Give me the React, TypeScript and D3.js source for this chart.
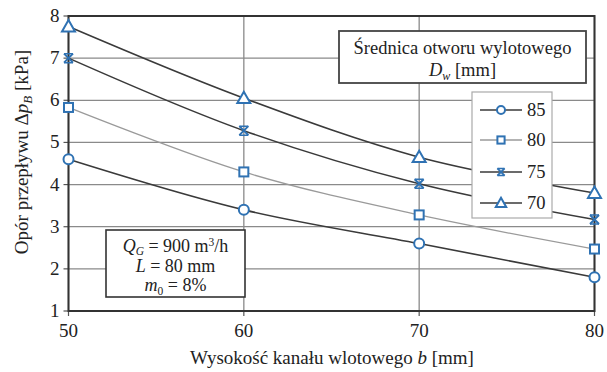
import React from "react";
import * as d3 from "d3";

const xValues = [50, 60, 70, 80];
const seriesNames = ["85", "80", "75", "70"];
const s85 = [4.6, 3.4, 2.6, 1.8];
const s80 = [5.83, 4.3, 3.28, 2.47];
const s75 = [7.0, 5.28, 4.02, 3.17];
const s70 = [7.75, 6.05, 4.65, 3.8];
const xTicks = [50, 60, 70, 80];
const yTicks = [1, 2, 3, 4, 5, 6, 7, 8];

const W = 607;
const H = 372;
const FONT = '"Liberation Serif", "DejaVu Serif", serif';
const BLUE = "#2f72b3";

type Marker = "circle" | "square" | "star" | "triangle";

const series: { name: string; values: number[]; color: string; width: number; marker: Marker }[] = [
  { name: seriesNames[0], values: s85, color: "#3a3a3a", width: 1.6, marker: "circle" },
  { name: seriesNames[1], values: s80, color: "#9a9a9a", width: 1.3, marker: "square" },
  { name: seriesNames[2], values: s75, color: "#3a3a3a", width: 1.6, marker: "star" },
  { name: seriesNames[3], values: s70, color: "#3a3a3a", width: 1.6, marker: "triangle" },
];

function MarkerShape({ type, x, y, small }: { type: Marker; x: number; y: number; small?: boolean }) {
  const k = small ? 0.8 : 1;
  const common = { fill: "#fff", stroke: BLUE, strokeWidth: 2 };
  if (type === "circle") return <circle cx={x} cy={y} r={5 * k} {...common} />;
  if (type === "square") {
    const s = 9 * k;
    return <rect x={x - s / 2} y={y - s / 2} width={s} height={s} {...common} />;
  }
  if (type === "triangle") {
    const s = 6.5 * k;
    return <path d={`M${x},${y - s}L${x + s},${y + s * 0.75}L${x - s},${y + s * 0.75}Z`} {...common} />;
  }
  const s = 4.5 * k;
  return (
    <g stroke={BLUE} strokeWidth={2} fill="none">
      <path d={`M${x - s},${y - s}L${x + s},${y + s}M${x + s},${y - s}L${x - s},${y + s}`} />
      <path d={`M${x - s},${y - s}L${x + s},${y - s}M${x - s},${y + s}L${x + s},${y + s}`} strokeWidth={1.5} />
    </g>
  );
}

const txt: React.CSSProperties = { fontFamily: FONT };

export default function App() {
  const x = d3.scaleLinear().domain([50, 80]).range([68.5, 594.5]);
  const y = d3.scaleLinear().domain([1, 8]).range([311, 16]);
  const line = d3
    .line<number>()
    .x((_, i) => x(xValues[i]))
    .y((d) => y(d))
    .curve(d3.curveCatmullRom.alpha(0.5));

  const legendY = [110, 140, 172, 203];

  return (
    <svg width={W} height={H} style={{ position: "absolute", left: 0, top: 0, background: "#fff", fontFamily: FONT }}>
      <rect width={W} height={H} fill="#fff" />
      {/* grid */}
      {yTicks.map((t) => (
        <line key={"gy" + t} x1={x(50)} x2={x(80)} y1={y(t)} y2={y(t)} stroke="#8a8a8a" strokeWidth={1.3} />
      ))}
      {xTicks.map((t) => (
        <line key={"gx" + t} x1={x(t)} x2={x(t)} y1={y(8)} y2={y(1)} stroke="#8a8a8a" strokeWidth={1.3} />
      ))}
      {/* ticks */}
      {yTicks.map((t) => (
        <line key={"ty" + t} x1={x(50) - 5} x2={x(50)} y1={y(t)} y2={y(t)} stroke="#555" strokeWidth={1.2} />
      ))}
      {xTicks.map((t) => (
        <line key={"tx" + t} x1={x(t)} x2={x(t)} y1={y(1)} y2={y(1) + 5} stroke="#555" strokeWidth={1.2} />
      ))}
      {/* plot border */}
      <rect x={x(50)} y={y(8)} width={x(80) - x(50)} height={y(1) - y(8)} fill="none" stroke="#333" strokeWidth={2} />
      {/* tick labels */}
      {yTicks.map((t) => (
        <text key={"ly" + t} style={txt} x={x(50) - 9} y={y(t) + 6} textAnchor="end" fontSize={19} fill="#222">
          {t}
        </text>
      ))}
      {xTicks.map((t) => (
        <text key={"lx" + t} style={txt} x={x(t)} y={337} textAnchor="middle" fontSize={19} fill="#222">
          {t}
        </text>
      ))}
      {/* axis titles */}
      <text style={txt} x={332} y={364} textAnchor="middle" fontSize={19} fill="#222">
        Wysokość kanału wlotowego <tspan fontStyle="italic">b</tspan> [mm]
      </text>
      <text style={txt} transform="translate(28,152) rotate(-90)" textAnchor="middle" fontSize={19} fill="#222">
        Opór przepływu Δ<tspan fontStyle="italic">p</tspan>
        <tspan fontStyle="italic" fontSize={13} dy={4}>B</tspan>
        <tspan dy={-4}> [kPa]</tspan>
      </text>
      {/* series */}
      {series.map((s) => (
        <path key={"p" + s.name} d={line(s.values) || ""} fill="none" stroke={s.color} strokeWidth={s.width} />
      ))}
      {series.map((s) =>
        s.values.map((v, i) => <MarkerShape key={s.name + i} type={s.marker} x={x(xValues[i])} y={y(v)} />)
      )}
      {/* legend title box */}
      <rect x={339} y={31} width={247} height={52} fill="#fff" stroke="#444" strokeWidth={1.8} />
      <text style={txt} x={462.5} y={54} textAnchor="middle" fontSize={18.5} fill="#222">
        Średnica otworu wylotowego
      </text>
      <text style={txt} x={462.5} y={76} textAnchor="middle" fontSize={18.5} fill="#222">
        <tspan fontStyle="italic">D</tspan>
        <tspan fontStyle="italic" fontSize={12} dy={4}>w</tspan>
        <tspan dy={-4}> [mm]</tspan>
      </text>
      {/* legend box */}
      <rect x={472} y={92} width={80} height={126} fill="#fff" stroke="#aaa" strokeWidth={1.2} />
      {series.map((s, i) => (
        <g key={"lg" + s.name}>
          <line x1={480} x2={522} y1={legendY[i]} y2={legendY[i]} stroke={s.color} strokeWidth={s.width} />
          <MarkerShape type={s.marker} x={501} y={legendY[i]} small />
          <text style={txt} x={527} y={legendY[i] + 6} fontSize={18.5} fill="#222">
            {s.name}
          </text>
        </g>
      ))}
      {/* parameters box */}
      <rect x={106} y={230} width={139} height={67} fill="#fff" stroke="#333" strokeWidth={1.6} />
      <text style={txt} x={175.5} y={252} textAnchor="middle" fontSize={18} fill="#222">
        <tspan fontStyle="italic">Q</tspan>
        <tspan fontStyle="italic" fontSize={11.5} dy={3}>G</tspan>
        <tspan dy={-3}> = 900 m</tspan>
        <tspan fontSize={11.5} dy={-6}>3</tspan>
        <tspan dy={6}>/h</tspan>
      </text>
      <text style={txt} x={175.5} y={272} textAnchor="middle" fontSize={18} fill="#222">
        <tspan fontStyle="italic">L</tspan> = 80 mm
      </text>
      <text style={txt} x={175.5} y={291} textAnchor="middle" fontSize={18} fill="#222">
        <tspan fontStyle="italic">m</tspan>
        <tspan fontSize={11.5} dy={4}>0</tspan>
        <tspan dy={-4}> = 8%</tspan>
      </text>
    </svg>
  );
}
